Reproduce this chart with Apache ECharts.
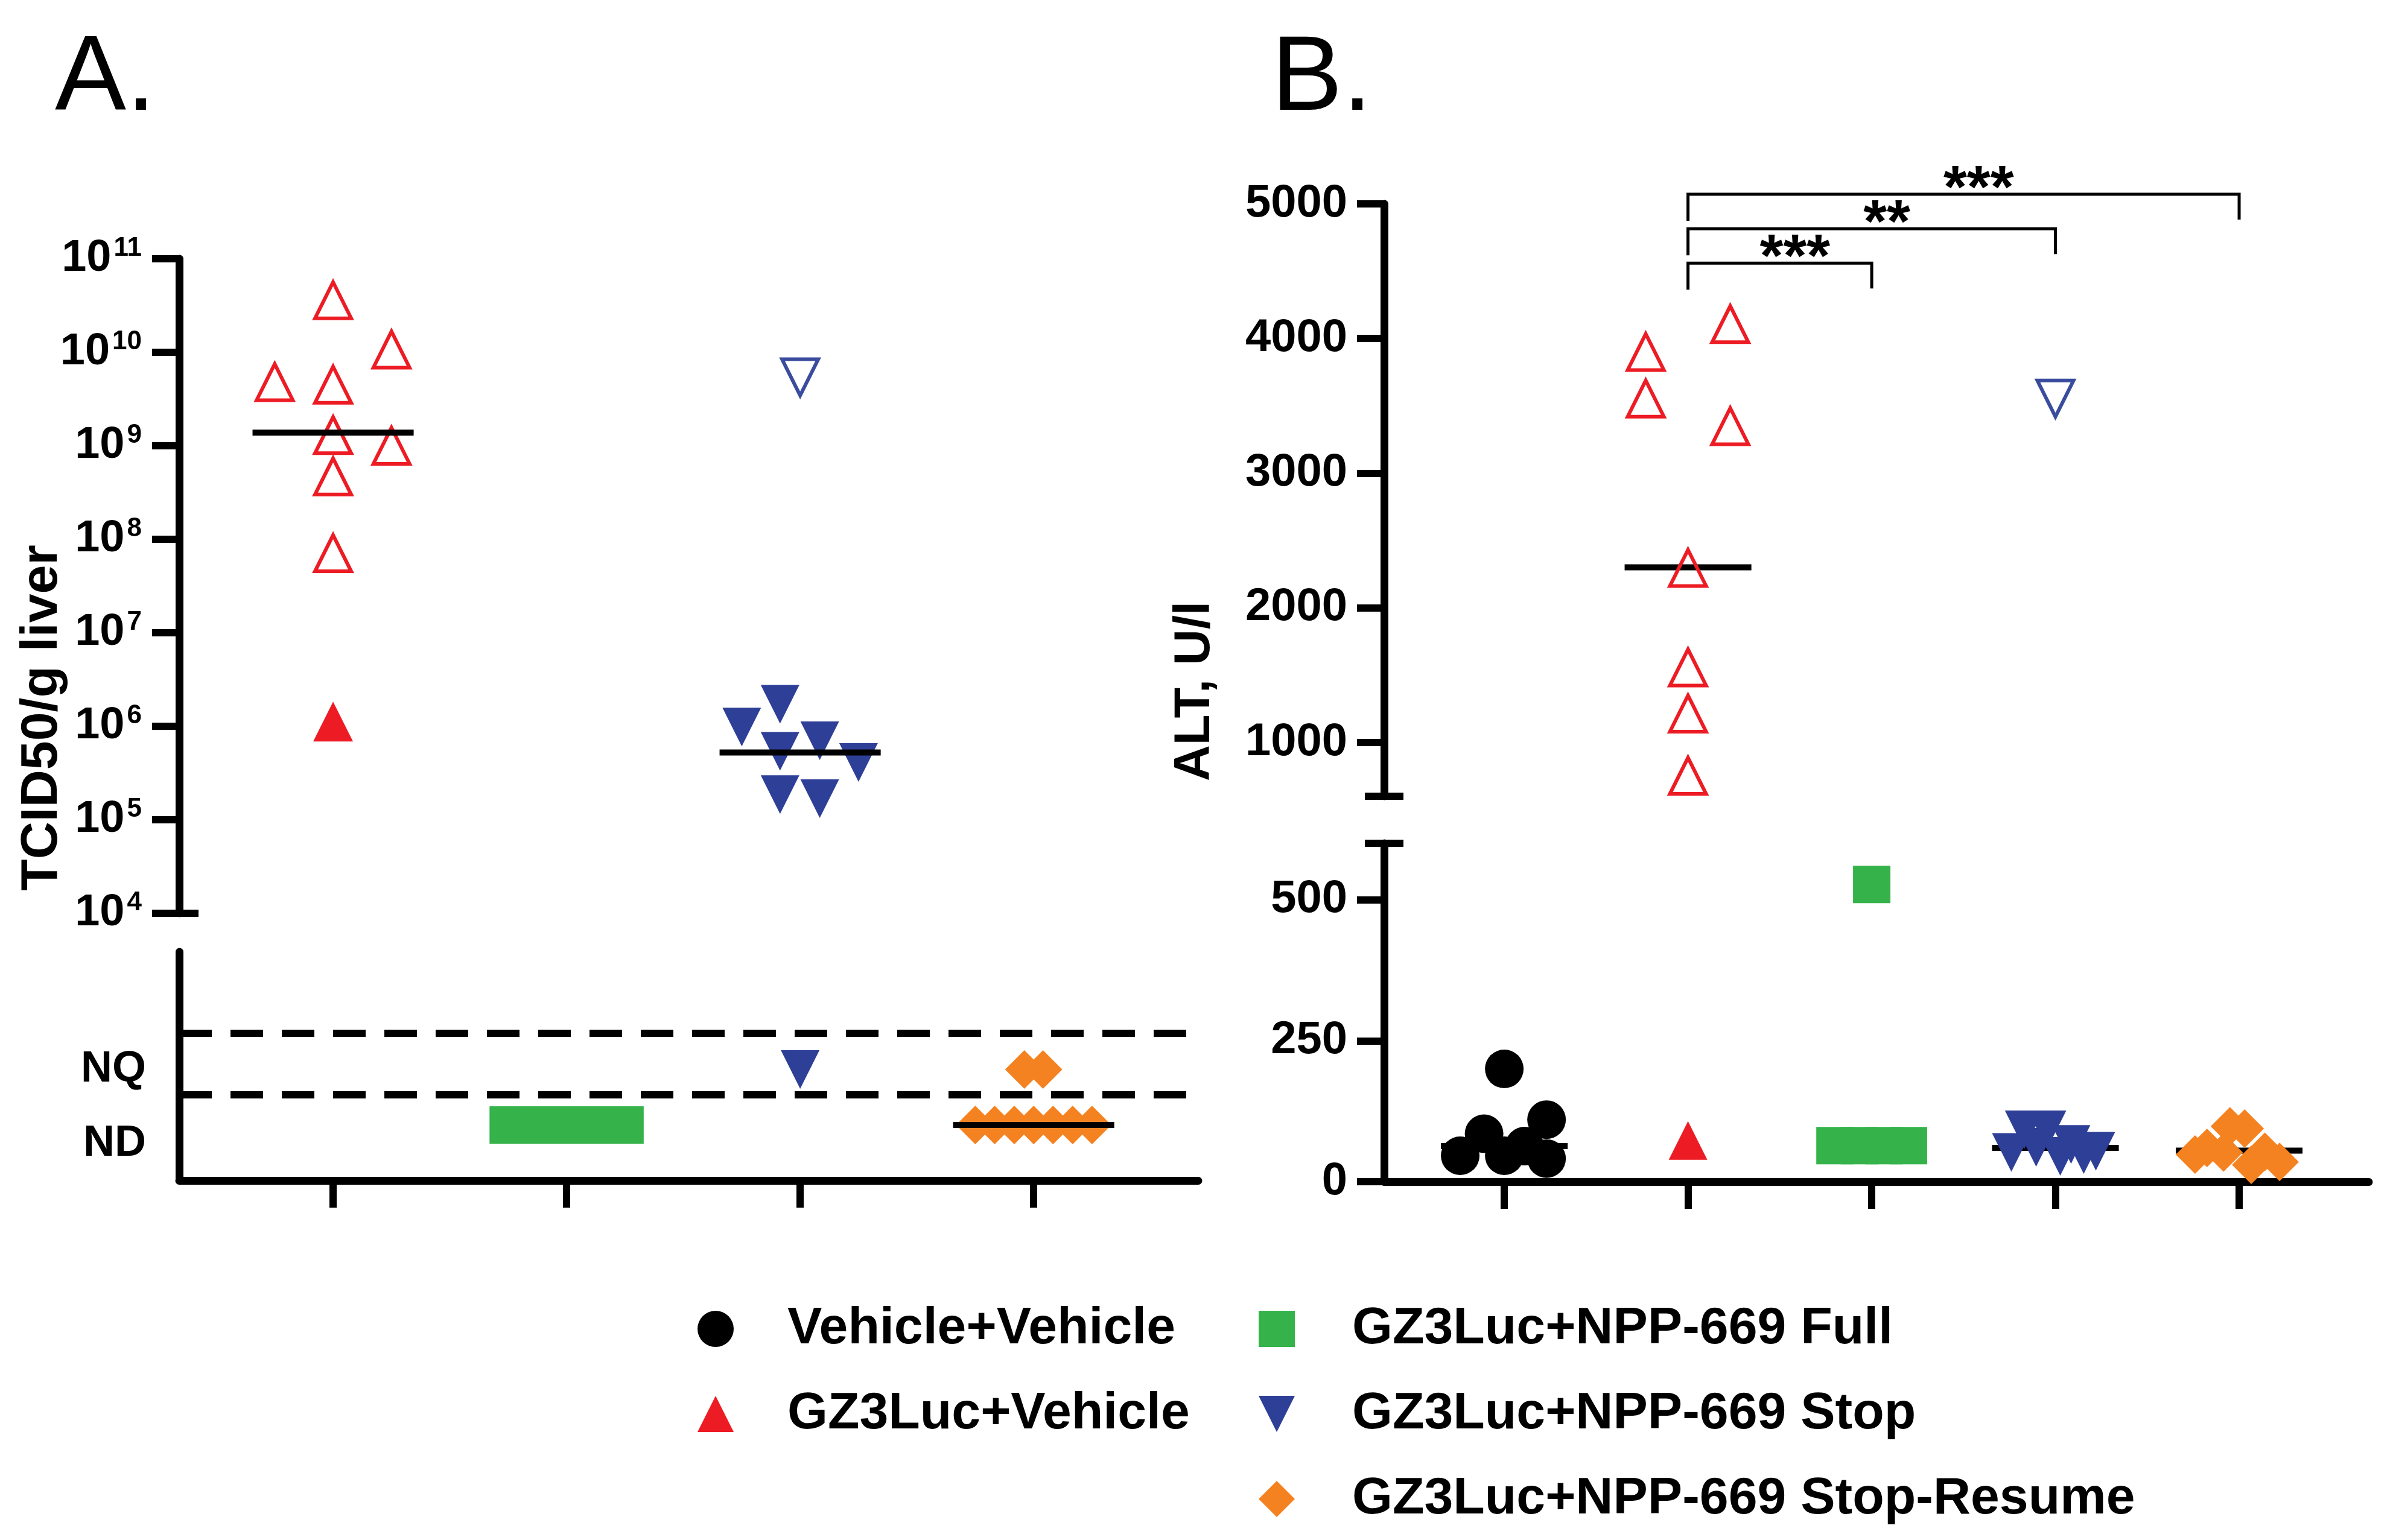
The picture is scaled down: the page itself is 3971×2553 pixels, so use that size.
<!DOCTYPE html>
<html><head><meta charset="utf-8">
<script src="https://cdn.jsdelivr.net/npm/echarts@6/dist/echarts.min.js"></script>
<style>html,body{margin:0;padding:0;background:#fff}#c{width:3971px;height:2553px}</style>
</head><body><div id="c"></div>
<script>
// ---------------- data ----------------
const groupNames = ['Vehicle+Vehicle', 'GZ3Luc+Vehicle', 'GZ3Luc+NPP-669 Full', 'GZ3Luc+NPP-669 Stop', 'GZ3Luc+NPP-669 Stop-Resume'];

// Panel A: TCID50/g liver. Points are [jitter offset, value]; groups sit at x = 1..4
const ND = 1, NQ = 2;                 // levels on the lower (non-log) part of the axis
const aThresholds = [2.66, 1.55];     // dashed NQ / ND limits
const aLowLabels = ['ND', 'NQ'];
const aLowLabelLevels = [0.66, 2];
const aLogTicks = [1e4, 1e5, 1e6, 1e7, 1e8, 1e9, 1e10, 1e11];
const aPos = {red: 1, green: 2, blue: 3, orange: 4};
const aRedOpen = [[0, 3.6e10], [0.25, 1.07e10], [-0.25, 4.8e9], [0, 4.5e9], [0, 1.3e9], [0.25, 1.0e9], [0, 4.7e8], [0, 7.1e7]];
const aRedFilled = [[0, 1.12e6]];
const aGreen = [[-0.25, ND], [-0.125, ND], [0, ND], [0.125, ND], [0.25, ND]];
const aBlueOpen = [[0, 5.4e9]];
const aBlueFilled = [[-0.25, 9.8e5], [-0.086, 1.72e6], [-0.086, 5.4e5], [0.084, 7.0e5], [0.25, 4.1e5], [-0.086, 1.86e5], [0.084, 1.68e5]];
const aBlueLow = [[0, NQ]];
const aOrange = [[-0.04, NQ], [0.04, NQ], [-0.25, ND], [-0.167, ND], [-0.083, ND], [0, ND], [0.083, ND], [0.167, ND], [0.25, ND]];
const aMedianUpper = [[aPos.red, 1.38e9], [aPos.blue, 5.25e5]];
const aMedianLower = [[aPos.orange, ND]];

// Panel B: ALT, U/l. Groups at x = 1..5
const bBreak = 600;
const bUpperTicks = [1000, 2000, 3000, 4000, 5000];
const bLowerTicks = [0, 250, 500];
const bBlack = [[0, 200], [0.23, 110], [-0.11, 85], [0.11, 63], [-0.24, 46], [0, 46], [0.23, 41]];
const bRedOpen = [[-0.23, 3900], [-0.23, 3554], [0.23, 4107], [0.23, 3349], [0, 2296], [0, 1557], [0, 1214], [0, 752]];
const bRedFilled = [[0, 73]];
const bGreen = [[0, 527], [-0.2, 64], [-0.067, 64], [0.067, 64], [0.2, 64]];
const bBlueOpen = [[0, 3554]];
const bBlueFilled = [[-0.24, 52], [-0.17, 92], [-0.105, 61], [-0.046, 92], [0.026, 45], [0.085, 66], [0.154, 48], [0.22, 54]];
const bOrange = [[-0.24, 48], [-0.175, 60], [-0.085, 52], [-0.05, 98], [0.03, 94], [0.066, 30], [0.14, 53], [0.22, 35]];
const bMedians = [[1, 63], [2, 2300], [4, 60], [5, 55]];
const bSigFrom = [2, 2, 2];
const bSigTo = [3, 4, 5];
const bSigY = [4560, 4815, 5072];
const bSigText = ['***', '**', '***'];

// ---------------- styling ----------------
const FF = '"Liberation Sans", Arial, sans-serif';
const C = {black: '#000000', red: '#ED1C24', green: '#35B34A', blue: '#2E3F98', blueOpen: '#3A4C9E', orange: '#F58220'};
const DOWN = 'path://M0,0L2,0L1,2Z';
const MED_HW = 0.345;
const AX_W = 13, TICK_W = 12, TICK_L = 45;

function place(pos, pts) { return pts.map(p => [pos + p[0], p[1]]); }

function sc(name, xi, yi, data, symbol, size, color, open) {
  return {
    type: 'scatter', name, xAxisIndex: xi, yAxisIndex: yi, data, symbol, symbolSize: size,
    itemStyle: open ? {color: 'rgba(0,0,0,0)', borderColor: color, borderWidth: 6, opacity: 1}
                    : {color, opacity: 1},
    emphasis: {disabled: true}, z: 2, silent: true
  };
}
function medians(xi, yi, data, z) {
  return {
    type: 'custom', xAxisIndex: xi, yAxisIndex: yi, data, z, silent: true, clip: false,
    renderItem: (params, api) => {
      const x = api.value(0), y = api.value(1);
      const p1 = api.coord([x - MED_HW, y]), p2 = api.coord([x + MED_HW, y]);
      return {type: 'line', shape: {x1: p1[0], y1: p1[1], x2: p2[0], y2: p2[1]}, style: {stroke: '#000', lineWidth: 10}};
    }
  };
}
function cap(xi, yi, xv, yv) {
  return {
    type: 'custom', xAxisIndex: xi, yAxisIndex: yi, data: [[xv, yv]], z: 5, silent: true, clip: false,
    renderItem: (params, api) => {
      const p = api.coord([api.value(0), api.value(1)]);
      return {type: 'line', shape: {x1: p[0] - 32, y1: p[1], x2: p[0] + 32, y2: p[1]}, style: {stroke: '#000', lineWidth: TICK_W}};
    }
  };
}
function splitB(pts, pos) {
  const d = place(pos, pts);
  return {up: d.filter(p => p[1] > bBreak), lo: d.filter(p => p[1] <= bBreak)};
}

const A_XMIN = 0.341, A_XMAX = 4.705, B_XMIN = 0.346, B_XMAX = 5.706;

const lineStyle = {color: '#000', width: AX_W};
const tickStyle = {color: '#000', width: TICK_W};
const lblStyle = {color: '#000', fontWeight: 'bold', fontFamily: FF};

const series = [];
// ---- Panel A upper (log) ----
series.push(sc('GZ3Luc+Vehicle open', 0, 0, place(aPos.red, aRedOpen), 'triangle', 60, C.red, true));
series.push(sc(groupNames[1], 0, 0, place(aPos.red, aRedFilled), 'triangle', 66, C.red, false));
series.push(sc('GZ3Luc+NPP-669 Stop open', 0, 0, place(aPos.blue, aBlueOpen), DOWN, 60, C.blueOpen, true));
series.push(sc(groupNames[3], 0, 0, place(aPos.blue, aBlueFilled), DOWN, 64, C.blue, false));
series.push(medians(0, 0, aMedianUpper, 4));
series.push(cap(0, 0, A_XMIN, aLogTicks[0]));
// ---- Panel A lower (ND / NQ) ----
series.push(sc(groupNames[2], 1, 1, place(aPos.green, aGreen), 'rect', 62, C.green, false));
series.push(sc(groupNames[3], 1, 1, place(aPos.blue, aBlueLow), DOWN, 64, C.blue, false));
series.push(sc(groupNames[4], 1, 1, place(aPos.orange, aOrange), 'diamond', 64, C.orange, false));
series.push(medians(1, 1, aMedianLower, 4));
series.push({
  type: 'line', xAxisIndex: 1, yAxisIndex: 1, data: [], silent: true,
  markLine: {
    symbol: 'none', silent: true, label: {show: false},
    lineStyle: {color: '#000', width: 12, type: [54, 31]},
    data: aThresholds.map(v => ({yAxis: v}))
  }
});
// ---- Panel B ----
const bSets = [
  {name: groupNames[0], pts: bBlack, pos: 1, sym: 'circle', size: 64, color: C.black, open: false},
  {name: 'GZ3Luc+Vehicle open', pts: bRedOpen, pos: 2, sym: 'triangle', size: 60, color: C.red, open: true},
  {name: groupNames[1], pts: bRedFilled, pos: 2, sym: 'triangle', size: 64, color: C.red, open: false},
  {name: groupNames[2], pts: bGreen, pos: 3, sym: 'rect', size: 62, color: C.green, open: false},
  {name: 'GZ3Luc+NPP-669 Stop open', pts: bBlueOpen, pos: 4, sym: DOWN, size: 60, color: C.blueOpen, open: true},
  {name: groupNames[3], pts: bBlueFilled, pos: 4, sym: DOWN, size: 64, color: C.blue, open: false},
  {name: groupNames[4], pts: bOrange, pos: 5, sym: 'diamond', size: 64, color: C.orange, open: false}
];
bSets.forEach(s => {
  const d = splitB(s.pts, s.pos);
  if (d.up.length) series.push(sc(s.name, 2, 2, d.up, s.sym, s.size, s.color, s.open));
  if (d.lo.length) series.push(sc(s.name, 3, 3, d.lo, s.sym, s.size, s.color, s.open));
});
series.push(medians(2, 2, bMedians.filter(m => m[1] > bBreak), 1));
series.push(medians(3, 3, bMedians.filter(m => m[1] <= bBreak), 1));
series.push(cap(2, 2, B_XMIN, bBreak));
series.push(cap(3, 3, B_XMIN, bBreak));
// significance brackets
series.push({
  type: 'custom', xAxisIndex: 2, yAxisIndex: 2, silent: true, clip: false, z: 5,
  data: bSigFrom.map((f, i) => [f, bSigTo[i], bSigY[i]]),
  renderItem: (params, api) => {
    const a = api.coord([api.value(0), api.value(2)]);
    const b = api.coord([api.value(1), api.value(2)]);
    return {
      type: 'group', children: [
        {type: 'polyline', shape: {points: [[a[0], a[1] + 44], [a[0], a[1]], [b[0], b[1]], [b[0], b[1] + 42]]},
         style: {stroke: '#000', lineWidth: 5, fill: null}},
        {type: 'text', x: (a[0] + b[0]) / 2 + 25, y: a[1] + 44,
         style: {text: bSigText[params.dataIndex], font: 'bold 100px ' + FF, fill: '#000', align: 'center', verticalAlign: 'bottom'}}
      ]
    };
  }
});

const option = {
  backgroundColor: '#fff',
  animation: false,
  textStyle: {fontFamily: FF},
  title: [
    {text: 'A.', left: 86, top: 40, textStyle: {fontSize: 177, fontWeight: 'normal', color: '#000', fontFamily: FF}},
    {text: 'B.', left: 2102, top: 40, textStyle: {fontSize: 177, fontWeight: 'normal', color: '#000', fontFamily: FF}}
  ],
  grid: [
    {left: 297, top: 429, width: 1689, height: 1085},
    {left: 297, top: 1578, width: 1689, height: 379},
    {left: 2294, top: 338, width: 1632, height: 982},
    {left: 2294, top: 1398, width: 1632, height: 561}
  ],
  xAxis: [
    {gridIndex: 0, type: 'value', min: A_XMIN, max: A_XMAX, show: false},
    {gridIndex: 1, type: 'value', min: A_XMIN, max: A_XMAX,
     axisLine: {show: true, lineStyle}, axisTick: {show: true, length: TICK_L, lineStyle: tickStyle, customValues: [1, 2, 3, 4]},
     axisLabel: {show: false}, splitLine: {show: false}},
    {gridIndex: 2, type: 'value', min: B_XMIN, max: B_XMAX, show: false},
    {gridIndex: 3, type: 'value', min: B_XMIN, max: B_XMAX,
     axisLine: {show: true, lineStyle}, axisTick: {show: true, length: TICK_L, lineStyle: tickStyle, customValues: [1, 2, 3, 4, 5]},
     axisLabel: {show: false}, splitLine: {show: false}}
  ],
  yAxis: [
    {gridIndex: 0, type: 'log', logBase: 10, min: aLogTicks[0], max: aLogTicks[aLogTicks.length - 1],
     axisLine: {show: true, lineStyle}, axisTick: {show: true, length: TICK_L, lineStyle: tickStyle}, splitLine: {show: false},
     axisLabel: {margin: 62, formatter: v => '{b|10}{s|' + Math.round(Math.log10(v)) + '}',
       rich: {b: {fontSize: 74, fontWeight: 'bold', color: '#000', fontFamily: FF},
              s: {fontSize: 44, fontWeight: 'bold', color: '#000', fontFamily: FF, padding: [0, 0, 34, 4]}}}},
    {gridIndex: 1, type: 'value', min: 0, max: 4.12,
     axisLine: {show: true, lineStyle}, axisTick: {show: false}, splitLine: {show: false},
     axisLabel: Object.assign({margin: 55, fontSize: 72, customValues: aLowLabelLevels,
       formatter: v => aLowLabels[aLowLabelLevels.indexOf(v)] || ''}, lblStyle)},
    {gridIndex: 2, type: 'value', min: bBreak, max: 5000,
     axisLine: {show: true, lineStyle}, axisTick: {show: true, length: TICK_L, lineStyle: tickStyle, customValues: bUpperTicks},
     splitLine: {show: false},
     axisLabel: Object.assign({margin: 61, fontSize: 76, customValues: bUpperTicks, formatter: v => String(v)}, lblStyle)},
    {gridIndex: 3, type: 'value', min: 0, max: bBreak,
     axisLine: {show: true, lineStyle}, axisTick: {show: true, length: TICK_L, lineStyle: tickStyle, customValues: bLowerTicks},
     splitLine: {show: false},
     axisLabel: Object.assign({margin: 61, fontSize: 76, customValues: bLowerTicks, formatter: v => String(v)}, lblStyle)}
  ],
  legend: [
    {left: 1151, top: 2155, orient: 'vertical', itemWidth: 60, itemHeight: 60, itemGap: 55, selectedMode: false,
     textStyle: {fontSize: 86, fontWeight: 'bold', color: '#000', fontFamily: FF, lineHeight: 86, padding: [0, 0, 0, 84]},
     data: [{name: groupNames[0], icon: 'circle'}, {name: groupNames[1], icon: 'triangle'}]},
    {left: 2081, top: 2155, orient: 'vertical', itemWidth: 60, itemHeight: 60, itemGap: 55, selectedMode: false,
     textStyle: {fontSize: 86, fontWeight: 'bold', color: '#000', fontFamily: FF, lineHeight: 86, padding: [0, 0, 0, 90]},
     data: [{name: groupNames[2], icon: 'rect'}, {name: groupNames[3], icon: DOWN}, {name: groupNames[4], icon: 'diamond'}]}
  ],
  graphic: [
    {type: 'text', x: 70, y: 1190, rotation: Math.PI / 2, silent: true,
     style: {text: 'TCID50/g liver', font: 'bold 86px ' + FF, fill: '#000', align: 'center', verticalAlign: 'middle'}},
    {type: 'text', x: 1981, y: 1146, rotation: Math.PI / 2, silent: true,
     style: {text: 'ALT, U/l', font: 'bold 83px ' + FF, fill: '#000', align: 'center', verticalAlign: 'middle'}}
  ],
  series
};
const chart = echarts.init(document.getElementById('c'), null, {renderer: 'canvas'});
chart.setOption(option);
</script></body></html>
